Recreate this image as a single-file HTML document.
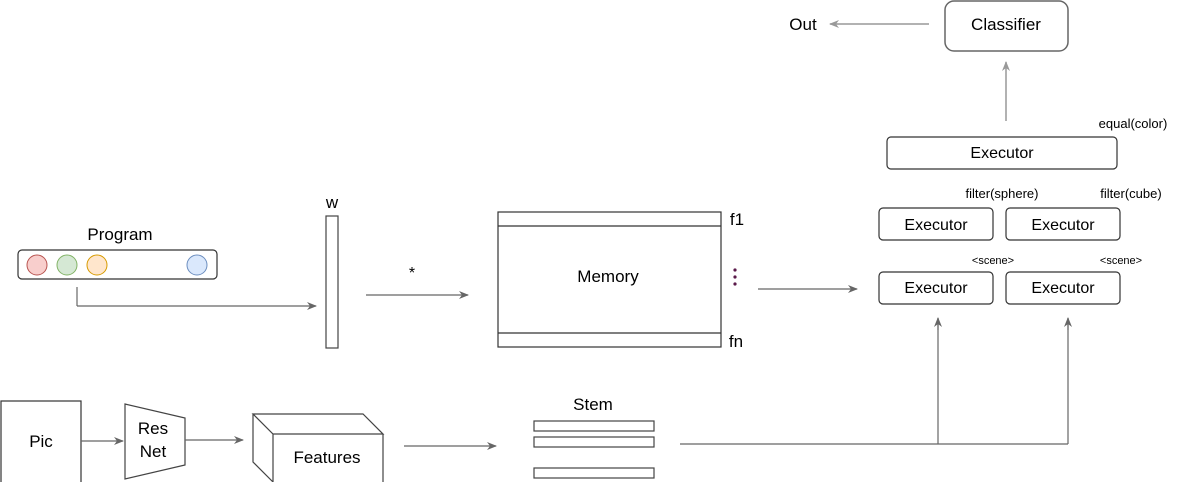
<!DOCTYPE html>
<html><head><meta charset="utf-8"><style>
html,body{margin:0;padding:0;background:#fff}
svg{display:block}
text{font-family:"Liberation Sans",sans-serif;fill:#000}
</style></head><body>
<svg width="1178" height="482" viewBox="0 0 1178 482" xmlns="http://www.w3.org/2000/svg">
<defs>
<marker id="a" markerWidth="10" markerHeight="8" refX="9" refY="4" orient="auto" markerUnits="userSpaceOnUse">
<path d="M0,0 L10,4 L0,8 L3,4 Z" fill="#666"/></marker>
<marker id="b" markerWidth="10" markerHeight="8" refX="9" refY="4" orient="auto" markerUnits="userSpaceOnUse">
<path d="M0,0 L10,4 L0,8 L3,4 Z" fill="#999"/></marker>
</defs>
<g fill="none" stroke="#555" stroke-width="1.2">
<rect x="18" y="250" width="199" height="29" rx="4" stroke="#333"/>
<line x1="77" y1="287" x2="77" y2="306" stroke="#666"/>
<line x1="77" y1="306" x2="316" y2="306" stroke="#666" marker-end="url(#a)"/>
<rect x="326" y="216" width="12" height="132" stroke="#444"/>
<line x1="366" y1="295" x2="468" y2="295" stroke="#666" marker-end="url(#a)"/>
<rect x="498" y="212" width="223" height="135" stroke="#333"/>
<line x1="498" y1="226" x2="721" y2="226" stroke="#333"/>
<line x1="498" y1="333" x2="721" y2="333" stroke="#333"/>
<line x1="758" y1="289" x2="857" y2="289" stroke="#666" marker-end="url(#a)"/>
<rect x="879" y="272" width="114" height="32" rx="4" stroke="#333"/>
<rect x="1006" y="272" width="114" height="32" rx="4" stroke="#333"/>
<rect x="879" y="208" width="114" height="32" rx="4" stroke="#333"/>
<rect x="1006" y="208" width="114" height="32" rx="4" stroke="#333"/>
<rect x="887" y="137" width="230" height="32" rx="4" stroke="#333"/>
<rect x="945" y="1" width="123" height="50" rx="9" stroke="#666" stroke-width="1.5"/>
<line x1="1006" y1="121" x2="1006" y2="62" stroke="#999" stroke-width="1.5" marker-end="url(#b)"/>
<line x1="929" y1="24" x2="830" y2="24" stroke="#999" stroke-width="1.5" marker-end="url(#b)"/>
<rect x="1" y="401" width="80" height="85" stroke="#333"/>
<line x1="81" y1="441" x2="123" y2="441" stroke="#666" marker-end="url(#a)"/>
<path d="M125,404 L185,418 L185,465 L125,479 Z" stroke="#444"/>
<line x1="185" y1="440" x2="243" y2="440" stroke="#666" marker-end="url(#a)"/>
<path d="M253,414 L363,414 L383,434 L273,434 Z M253,414 L253,462 L273,482 M273,434 L273,486 M383,434 L383,486" stroke="#444"/>
<line x1="404" y1="446" x2="496" y2="446" stroke="#666" marker-end="url(#a)"/>
<rect x="534" y="421" width="120" height="10" stroke="#444"/>
<rect x="534" y="437" width="120" height="10" stroke="#444"/>
<rect x="534" y="468" width="120" height="10" stroke="#444"/>
<path d="M680,444 L1068,444 M938,444 L938,318 M1068,444 L1068,318" stroke="#666"/>
<line x1="938" y1="330" x2="938" y2="318" stroke="#666" marker-end="url(#a)"/>
<line x1="1068" y1="330" x2="1068" y2="318" stroke="#666" marker-end="url(#a)"/>
</g>
<circle cx="37" cy="265" r="10" fill="#f8cecc" stroke="#b85450"/>
<circle cx="67" cy="265" r="10" fill="#d5e8d4" stroke="#82b366"/>
<circle cx="97" cy="265" r="10" fill="#ffe6cc" stroke="#d79b00"/>
<circle cx="197" cy="265" r="10" fill="#dae8fc" stroke="#6c8ebf"/>
<g font-size="17" text-anchor="middle">
<text x="120" y="240">Program</text>
<text x="608" y="282">Memory</text>
<text x="1006" y="30">Classifier</text>
<text x="803" y="30">Out</text>
<text x="41" y="447">Pic</text>
<text x="153" y="434">Res</text>
<text x="153" y="457">Net</text>
<text x="327" y="463">Features</text>
<text x="593" y="410">Stem</text>
<text x="737" y="225">f1</text>
<text x="736" y="347">fn</text>
<text x="332" y="208">w</text>
</g>
<g font-size="16" text-anchor="middle">
<text x="1002" y="158">Executor</text>
<text x="936" y="230">Executor</text>
<text x="1063" y="230">Executor</text>
<text x="936" y="293">Executor</text>
<text x="1063" y="293">Executor</text>
</g>
<text x="412" y="278" font-size="16" text-anchor="middle">*</text>
<g fill="#5a1a4a"><circle cx="735" cy="270" r="1.6"/><circle cx="735" cy="277" r="1.6"/><circle cx="735" cy="284" r="1.6"/></g>
<g font-size="13" text-anchor="middle">
<text x="1133" y="128">equal(color)</text>
<text x="1002" y="198">filter(sphere)</text>
<text x="1131" y="198">filter(cube)</text>
</g>
<g font-size="11" text-anchor="middle">
<text x="993" y="264">&lt;scene&gt;</text>
<text x="1121" y="264">&lt;scene&gt;</text>
</g>
</svg>
</body></html>
